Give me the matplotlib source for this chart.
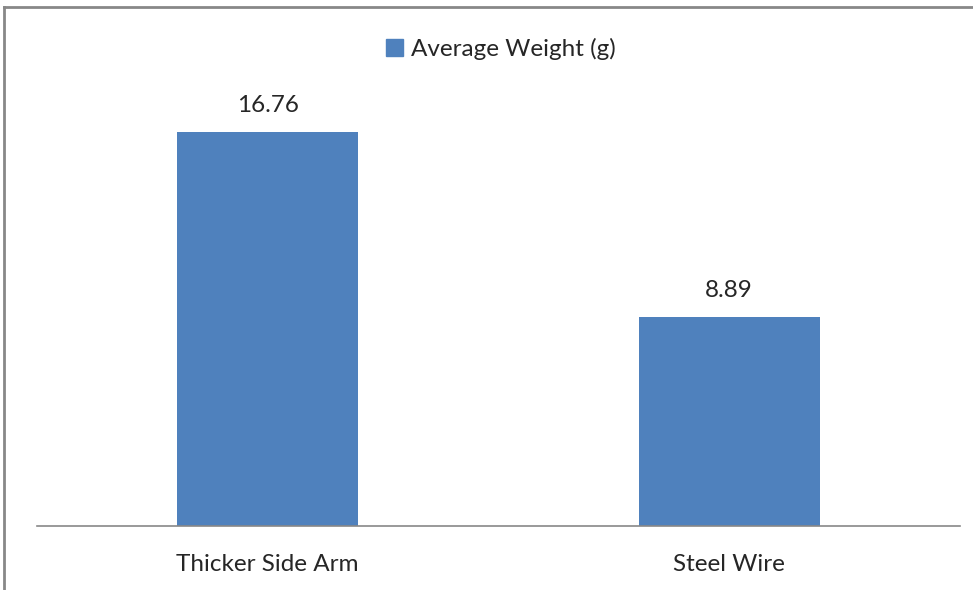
import matplotlib
matplotlib.use("Agg")
import matplotlib.pyplot as plt
from matplotlib.lines import Line2D
from matplotlib.patches import Patch

categories = ["Thicker Side Arm", "Steel Wire"]
values = [16.76, 8.89]
series_name = "Average Weight (g)"

plt.rcParams['font.family'] = ['Lato', 'DejaVu Sans']

W, H = 973, 590
fig = plt.figure(figsize=(W/100, H/100), dpi=100)
fig.patch.set_facecolor('white')

ax = fig.add_axes([37/W, (H-526)/H, (960-37)/W, (526-79.5)/H])
x = list(range(len(categories)))
bars = ax.bar(x, values, width=0.392, color='#4F81BD')
ax.set_xlim(-0.5, 1.5)
ax.set_ylim(0, 19)
for s in ['top', 'right', 'left']:
    ax.spines[s].set_visible(False)
ax.spines['bottom'].set_color('#888888')
ax.spines['bottom'].set_linewidth(1.2)
ax.set_yticks([])
ax.set_xticks(x)
ax.set_xticklabels(categories, fontsize=17.5, color='#262626')
ax.tick_params(axis='x', length=0, pad=20)
for b, v in zip(bars, values):
    ax.annotate(f"{v:.2f}", (b.get_x() + b.get_width()/2, v), xytext=(0, 11.5),
                textcoords='offset points', ha='center', va='bottom',
                fontsize=17.5, color='#262626')

leg = fig.legend(handles=[Patch(color='#4F81BD', label=series_name)],
                 loc='center', bbox_to_anchor=(501/W, 1-49/H), frameon=False,
                 fontsize=17.5, handlelength=0.7, handleheight=0.7, handletextpad=0.3)
for t in leg.get_texts():
    t.set_color('#262626')

# outer border (top and left)
fig.add_artist(Line2D([4/W, 4/W], [0, 1-7/H], transform=fig.transFigure, color='#888888', lw=2))
fig.add_artist(Line2D([4/W, 1], [1-7/H, 1-7/H], transform=fig.transFigure, color='#888888', lw=2))

fig.savefig("out.png", dpi=100)
